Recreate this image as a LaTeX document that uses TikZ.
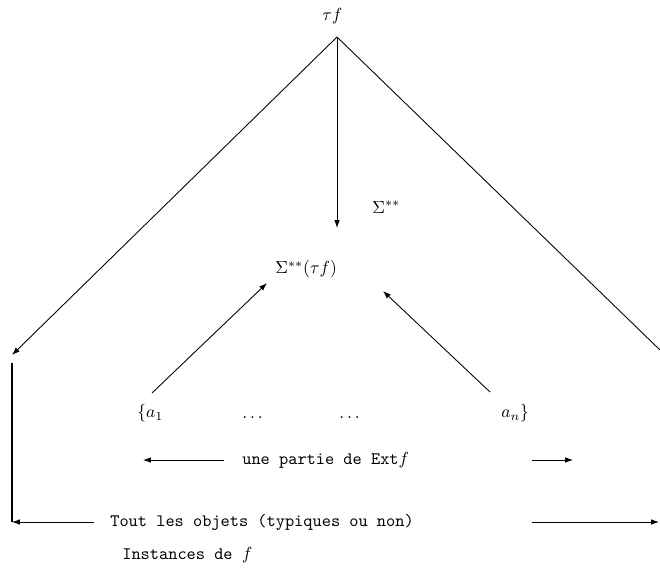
\documentclass[tikz,border=0pt]{standalone}
\usetikzlibrary{arrows.meta}
\tikzset{
  fleche/.style={-{Latex[length=4.5pt,width=3.2pt]}, line width=0.5pt},
  trait/.style={line width=0.5pt},
  bord/.style={line width=0.9pt},
  texte/.style={anchor=west, inner sep=0pt, font=\ttfamily},
  formule/.style={anchor=west, inner sep=0pt}
}
\begin{document}
\begin{tikzpicture}[x=0.571pt, y=-0.571pt]
  \useasboundingbox (0,0) rectangle (660,567);

  % sommet et etiquettes
  \node[formule] (tau) at (322,16) {$\tau f$};
  \node[formule] (sigma) at (372,207) {$\Sigma^{**}$};
  \node[formule] (sigtau) at (275,269) {$\Sigma^{**}(\tau f)$};

  % la ligne des elements
  \node[formule] (a1) at (137,413) {$\{a_1$};
  \node[formule, anchor=base west] (pointsA) at (242,418) {$\ldots$};
  \node[formule, anchor=base west] (pointsB) at (339,418) {$\ldots$};
  \node[formule] (an) at (501,413) {$a_n\}$};

  \node[texte] (partie) at (242,460) {une partie de Ext$f$};
  \node[texte] (objets) at (110,522) {Tout les objets (typiques ou non)};
  \node[texte] (instances) at (122,555) {Instances de $f$};

  % points d'accroche
  \coordinate (apex) at (337,37);
  \coordinate (gauche) at (12,355);
  \coordinate (droite) at (660,350);
  \coordinate (bas) at (337,228);
  \coordinate (a1haut) at (152,393);
  \coordinate (a1fin) at (267,283);
  \coordinate (anhaut) at (490,392);
  \coordinate (anfin) at (383,291);
  \coordinate (coinhaut) at (12,363);
  \coordinate (coin) at (12,522);
  \coordinate (pg) at (224,460);
  \coordinate (pgfin) at (143,460);
  \coordinate (pd) at (532,460);
  \coordinate (pdfin) at (573,460);
  \coordinate (og) at (94,522);
  \coordinate (od) at (532,522);
  \coordinate (odfin) at (659,522);

  \draw[fleche] (apex) -- (gauche);
  \draw[trait] (apex) -- (droite);
  \draw[fleche] (apex) -- (bas);
  \draw[fleche] (a1haut) -- (a1fin);
  \draw[fleche] (anhaut) -- (anfin);

  \draw[fleche] (pg) -- (pgfin);
  \draw[fleche] (pd) -- (pdfin);

  \draw[bord] (coinhaut) -- (coin);
  \draw[fleche] (og) -- (coin);
  \draw[fleche] (od) -- (odfin);
\end{tikzpicture}
\end{document}
